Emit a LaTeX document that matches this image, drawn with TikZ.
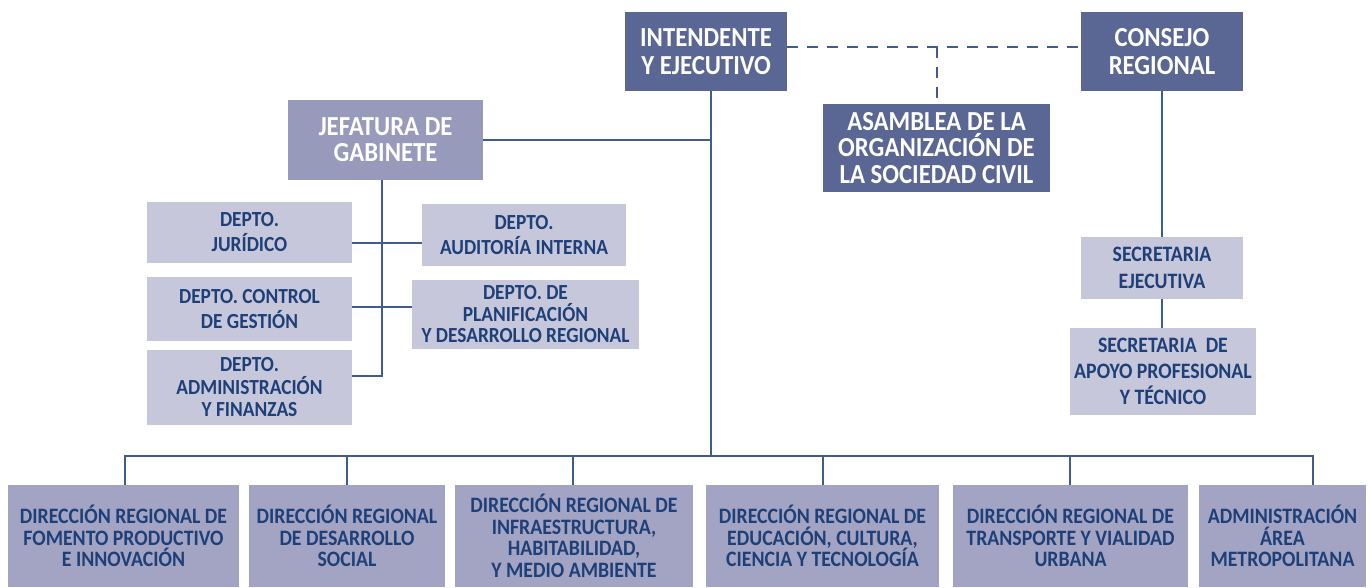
\documentclass[tikz,border=0pt]{standalone}
\usepackage{fontspec}
\setmainfont{Carlito}[FakeStretch=0.9]
\definecolor{darkbox}{HTML}{5A6794}
\definecolor{jefbox}{HTML}{989ABB}
\definecolor{botbox}{HTML}{A3A4C3}
\definecolor{lightbox}{HTML}{C6C7DA}
\definecolor{txtblue}{HTML}{1E3F78}
\definecolor{linecol}{HTML}{3E5D8E}
\tikzset{
  base/.style={rectangle, inner sep=0pt, align=center, font=\bfseries},
  topbox/.style={base, fill=darkbox, text=white, font=\bfseries\fontsize{27.5}{28}\selectfont},
  jefstyle/.style={base, fill=jefbox, text=white, font=\bfseries\fontsize{27.5}{26}\selectfont},
  deptobox/.style={base, fill=lightbox, text=txtblue, font=\bfseries\fontsize{21.5}{25}\selectfont},
  dirbox/.style={base, fill=botbox, text=txtblue, font=\bfseries\fontsize{22}{21.5}\selectfont},
  ln/.style={draw=linecol, line width=1.4pt},
  dsh/.style={draw=linecol, line width=1.4pt, dash pattern=on 11pt off 9pt}
}
\begin{document}
\begin{tikzpicture}[x=1pt,y=-1pt]
\useasboundingbox (0,0) rectangle (1371,587);
% top level
\node[topbox, minimum width=162pt, minimum height=79pt] (int) at (706,51.5) {INTENDENTE\\Y EJECUTIVO};
\node[topbox, minimum width=162pt, minimum height=79pt] (cons) at (1162,51.5) {CONSEJO\\REGIONAL};
\node[topbox, minimum width=227pt, minimum height=88pt, font=\bfseries\fontsize{27.5}{26.7}\selectfont] (asam) at (936.5,148) {ASAMBLEA DE LA\\ORGANIZACIÓN DE\\LA SOCIEDAD CIVIL};
\node[jefstyle, minimum width=195pt, minimum height=80pt] (jef) at (385.5,140) {JEFATURA DE\\GABINETE};
% departments
\node[deptobox, minimum width=205pt, minimum height=61pt] (jur) at (249.5,232.5) {DEPTO.\\JURÍDICO};
\node[deptobox, minimum width=204pt, minimum height=62pt] (aud) at (524,235) {DEPTO.\\AUDITORÍA INTERNA};
\node[deptobox, minimum width=205pt, minimum height=64pt] (ctl) at (249.5,309) {DEPTO. CONTROL\\DE GESTIÓN};
\node[deptobox, minimum width=227pt, minimum height=69pt, font=\bfseries\fontsize{21.5}{21.5}\selectfont] (pla) at (525.5,314.5) {DEPTO. DE\\PLANIFICACIÓN\\Y DESARROLLO REGIONAL};
\node[deptobox, minimum width=205pt, minimum height=75pt, font=\bfseries\fontsize{21.5}{22.5}\selectfont] (adm) at (249.5,387.5) {DEPTO.\\ADMINISTRACIÓN\\Y FINANZAS};
% secretarias
\node[deptobox, minimum width=162pt, minimum height=62pt, font=\bfseries\fontsize{22}{26.5}\selectfont] (sej) at (1162,268) {SECRETARIA\\EJECUTIVA};
\node[deptobox, minimum width=186pt, minimum height=87pt, font=\bfseries\fontsize{22}{26}\selectfont] (sap) at (1163,371.5) {SECRETARIA~~DE\\APOYO PROFESIONAL\\Y TÉCNICO};
% bottom directions
\node[dirbox, minimum width=231pt, minimum height=102pt] (b1) at (123.5,536) {DIRECCIÓN REGIONAL DE\\FOMENTO PRODUCTIVO\\E INNOVACIÓN};
\node[dirbox, minimum width=196pt, minimum height=102pt] (b2) at (347,536) {DIRECCIÓN REGIONAL\\DE DESARROLLO\\SOCIAL};
\node[dirbox, minimum width=238pt, minimum height=102pt] (b3) at (574,536) {DIRECCIÓN REGIONAL DE\\INFRAESTRUCTURA,\\HABITABILIDAD,\\Y MEDIO AMBIENTE};
\node[dirbox, minimum width=233pt, minimum height=102pt] (b4) at (822.5,536) {DIRECCIÓN REGIONAL DE\\EDUCACIÓN, CULTURA,\\CIENCIA Y TECNOLOGÍA};
\node[dirbox, minimum width=235pt, minimum height=102pt] (b5) at (1070.5,536) {DIRECCIÓN REGIONAL DE\\TRANSPORTE Y VIALIDAD\\URBANA};
\node[dirbox, minimum width=167pt, minimum height=102pt] (b6) at (1282.5,536) {ADMINISTRACIÓN\\ÁREA\\METROPOLITANA};
% coordinates
\coordinate (bus) at (711,456);
\coordinate (d) at (937,47);
\coordinate (s1) at (382,243);
\coordinate (s2) at (382,307);
\coordinate (s3) at (382,376);
% connectors
\draw[ln] (int.south -| bus) -- (bus);
\draw[ln] (jef.east) -- (jef.east -| bus);
\draw[ln] (b1.north -| 125,0) |- (bus) -| ([xshift=30.5pt]b6.north);
\draw[ln] (b2.north) -- (b2.north |- bus);
\draw[ln] (b3.north -| 573,0) -- (bus -| 573,0);
\draw[ln] (b4.north -| 823,0) -- (bus -| 823,0);
\draw[ln] (b5.north -| 1070,0) -- (bus -| 1070,0);
\draw[ln] (jef.south -| s1) -- (s3) -- (s3 -| adm.east);
\draw[ln] (s1 -| jur.east) -- (s1 -| aud.west);
\draw[ln] (s2 -| ctl.east) -- (s2 -| pla.west);
\draw[ln] (cons.south) -- (sej.north);
\draw[ln] (sej.south) -- (sej.south |- sap.north);
\draw[dsh] (int.east |- d) -- (cons.west |- d);
\draw[dsh] (d) -- (asam.north -| d);
\end{tikzpicture}
\end{document}
